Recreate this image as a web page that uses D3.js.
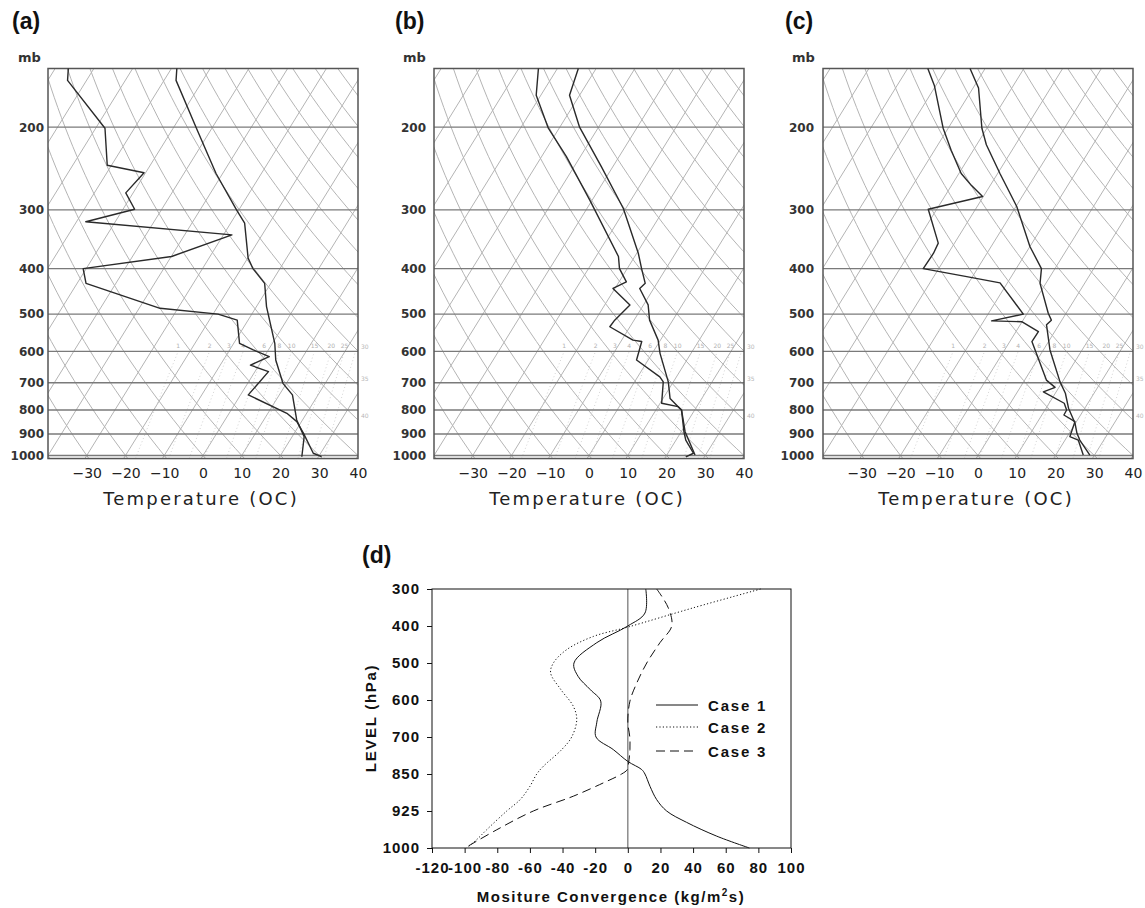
<!DOCTYPE html>
<html><head><meta charset="utf-8">
<script src="https://cdn.jsdelivr.net/npm/d3@7"></script>
<style>body{margin:0;background:#fff} svg{display:block}</style>
</head><body>
<svg id="c" width="1145" height="908"></svg>
<script>
// ---------------- DATA ----------------
// Skew-T axes
const pressureTicks = [200, 300, 400, 500, 600, 700, 800, 900, 1000];
const tempTicks = [-30, -20, -10, 0, 10, 20, 30, 40];
const mixRatios = [1, 2, 3, 4, 6, 8, 10, 15, 20, 25];
const sideLabels = [["30", 600], ["35", 700], ["40", 840]];

// soundings: [pressure (mb), temperature (°C)]
const aTemp = [[150,-68.6],[159,-66.9],[201,-54.0],[251,-41.7],[300,-30.6],[320,-26.4],[380,-19.9],[400,-17.0],[430,-11.6],[482,-7.4],[577,0.6],[626,3.5],[702,9.1],[743,13.4],[840,18.5],[912,23.1],[1006,25.7]];
const aDew  = [[150,-96.6],[159,-94.9],[201,-77.6],[241,-71.1],[250,-60.4],[276,-61.9],[299,-57.0],[318,-67.6],[339,-27.8],[377,-39.9],[400,-60.8],[430,-57.7],[486,-34.6],[500,-18.7],[515,-12.8],[577,-8.5],[596,-3.9],[616,1.3],[642,-2.2],[663,3.5],[743,2.0],[813,14.9],[847,18.8],[897,22.4],[989,28.1],[1006,30.8]];
const bTemp = [[150,-64.6],[171,-62.6],[200,-54.9],[243,-42.9],[298,-30.6],[371,-19.6],[400,-16.3],[430,-13.0],[441,-13.6],[478,-8.8],[515,-6.0],[568,-0.6],[606,2.0],[697,8.7],[756,11.8],[787,15.2],[800,16.6],[890,21.0],[998,27.3]];
const bDew  = [[150,-74.9],[171,-71.2],[201,-62.8],[231,-53.6],[286,-40.6],[377,-24.2],[400,-22.0],[427,-18.1],[441,-20.5],[478,-13.5],[515,-15.0],[532,-15.2],[568,-7.1],[572,-4.6],[626,-3.0],[680,5.7],[697,7.4],[774,10.4],[787,15.2],[800,16.6],[890,20.7],[927,22.5],[989,26.6],[1007,25.2]];
const cTemp = [[150,-63.9],[165,-58.6],[201,-51.3],[218,-47.5],[251,-39.4],[295,-29.8],[359,-20.0],[400,-13.5],[430,-11.5],[498,-4.6],[515,-2.7],[527,-3.2],[596,1.7],[697,9.4],[737,12.6],[793,15.8],[854,19.9],[897,22.0],[927,23.8],[998,28.8]];
const cDew  = [[150,-74.8],[163,-70.4],[201,-61.3],[224,-55.7],[251,-49.4],[266,-44.9],[281,-40.2],[299,-52.2],[353,-44.2],[371,-43.8],[400,-44.0],[416,-31.5],[429,-21.9],[500,-10.9],[517,-18.0],[519,-10.1],[545,-4.2],[572,-4.3],[691,5.6],[716,9.0],[732,6.7],[774,13.9],[800,15.6],[820,15.7],[847,19.6],[912,20.7],[927,23.4],[998,27.1]];

// Panel (d): moisture convergence profiles [pressure (hPa), value]
const levels = [300, 400, 500, 600, 700, 850, 925, 1000];
const convTicks = [-120, -100, -80, -60, -40, -20, 0, 20, 40, 60, 80, 100];
const case1 = [[300,11],[365,10.5],[400,0],[445,-19],[500,-33],[536,-30.5],[572,-23],[603,-16.6],[660,-19],[700,-19.5],[751,-8.9],[799,0],[832,8.5],[850,10.5],[875,13.6],[902,17.7],[925,23.8],[948,36],[976,54.5],[1000,74.5]];
const case2 = [[300,81.4],[351,40],[403,0],[428,-21],[464,-37.5],[500,-45.6],[527,-47.3],[572,-41],[617,-33.4],[653,-31.3],[700,-34.4],[751,-40.5],[819,-51.8],[850,-55.8],[875,-60],[902,-66],[925,-74.2],[963,-86.5],[983,-92.6],[1000,-98.7]];
const case3 = [[300,17.7],[351,24.8],[400,26.9],[445,19.7],[500,11.6],[554,5.5],[603,1.3],[660,0],[700,1.2],[751,1.3],[805,0.5],[832,-0.3],[850,-3.8],[868,-15],[895,-33.4],[925,-57.9],[963,-80.3],[1000,-99.8]];
const caseNames = ["Case 1", "Case 2", "Case 3"];

// ---------------- DRAW ----------------
const svg = d3.select("#c");
const W = 310, BOT_P = 1015, TOP_P = 150;
const K = 32.6; // skew: °C per ln(1000/p)
const yS = d3.scaleLog().domain([1000, TOP_P]).range([455.5, 68.5]);
const SANS = "'DejaVu Sans', sans-serif";
const ARIAL = "'Liberation Sans', Arial, sans-serif";

function dewFromMix(w, p) {
  const e = w * p / (622 + w);
  const l = Math.log(e / 6.112);
  return 243.5 * l / (17.67 - l);
}

const panels = [
  {id: "a", x0: 48,  temp: aTemp, dew: aDew, lab: "(a)", labX: 12,  mbX: 18,  pad: 4},
  {id: "b", x0: 434, temp: bTemp, dew: bDew, lab: "(b)", labX: 395, mbX: 403, pad: 8},
  {id: "c", x0: 823, temp: cTemp, dew: cDew, lab: "(c)", labX: 785, mbX: 792, pad: 9}
];

panels.forEach(P => {
  const g = svg.append("g");
  const xS = d3.scaleLinear().domain([-40, 40]).range([P.x0, P.x0 + W]);
  const X = (T, p) => xS(T + K * Math.log(1000 / p));
  const line = d3.line().x(d => X(d[1], d[0])).y(d => yS(d[0]));
  const clipId = "clip" + P.id;
  svg.append("clipPath").attr("id", clipId).append("rect")
    .attr("x", P.x0).attr("y", yS(TOP_P)).attr("width", W).attr("height", yS(BOT_P) - yS(TOP_P));
  const grid = g.append("g").attr("clip-path", `url(#${clipId})`);
  const pS = d3.range(0, 41).map(i => BOT_P * Math.pow(TOP_P / BOT_P, i / 40));

  // isotherms
  d3.range(-110, 41, 10).forEach(T => {
    grid.append("path").attr("d", line([[BOT_P, T], [TOP_P, T]]))
      .attr("fill", "none").attr("stroke", "#b4b4b4").attr("stroke-width", 1);
  });
  // dry adiabats
  d3.range(-40, 181, 10).forEach(th => {
    grid.append("path")
      .attr("d", line(pS.map(p => [p, (th + 273.15) * Math.pow(p / 1000, 0.2857) - 273.15])))
      .attr("fill", "none").attr("stroke", "#b4b4b4").attr("stroke-width", 1);
  });
  // mixing ratio lines
  mixRatios.concat([30]).forEach(w => {
    const pts = d3.range(1015, 599, -15).concat([600]).map(p => [p, dewFromMix(w, p)]);
    grid.append("path").attr("d", line(pts)).attr("fill", "none")
      .attr("stroke", "#c8c8c8").attr("stroke-width", 0.8).attr("stroke-dasharray", "1,2.5");
  });
  mixRatios.forEach(w => {
    g.append("text").attr("x", X(dewFromMix(w, 600), 600)).attr("y", yS(600) - 3)
      .attr("text-anchor", "middle").attr("font-family", SANS).attr("font-size", 6)
      .attr("fill", "#b0b0b0").text(w);
  });
  sideLabels.forEach(([t, p]) => {
    g.append("text").attr("x", P.x0 + W + 3).attr("y", yS(p) - 2)
      .attr("font-family", SANS).attr("font-size", 6).attr("fill", "#b8b8b8").text(t);
  });

  // pressure lines
  pressureTicks.forEach(p => {
    g.append("line").attr("x1", P.x0).attr("x2", P.x0 + W).attr("y1", yS(p)).attr("y2", yS(p))
      .attr("stroke", "#7a7a7a").attr("stroke-width", 1.3);
  });
  // box
  g.append("rect").attr("x", P.x0).attr("y", yS(TOP_P)).attr("width", W)
    .attr("height", yS(BOT_P) - yS(TOP_P)).attr("fill", "none")
    .attr("stroke", "#555").attr("stroke-width", 1.5);

  // soundings
  [P.dew, P.temp].forEach(s => {
    g.append("path").attr("d", line(s)).attr("fill", "none")
      .attr("stroke", "#2a2a2a").attr("stroke-width", 1.4).attr("stroke-linejoin", "round");
  });

  // axes
  const ay = g.append("g").attr("transform", `translate(${P.x0},0)`)
    .call(d3.axisLeft(yS).tickValues(pressureTicks).tickSize(0).tickPadding(P.pad).tickFormat(d3.format("d")));
  ay.select(".domain").remove();
  ay.selectAll("text").attr("font-family", SANS).attr("font-weight", "bold")
    .attr("font-size", 12).attr("fill", "#333");

  const ax = g.append("g").attr("transform", `translate(0,${yS(BOT_P)})`)
    .call(d3.axisBottom(xS).tickValues(tempTicks).tickSize(0).tickPadding(9.5)
      .tickFormat(d => d < 0 ? "\u2212" + Math.abs(d) : String(d)));
  ax.select(".domain").remove();
  ax.selectAll("text").attr("font-family", SANS).attr("font-size", 14).attr("fill", "#222");

  g.append("text").attr("x", P.x0 + 153).attr("y", 505).attr("text-anchor", "middle")
    .attr("font-family", SANS).attr("font-size", 18).attr("letter-spacing", 2.2)
    .attr("fill", "#222").text("Temperature (OC)");
  g.append("text").attr("x", P.mbX).attr("y", 61.5).attr("font-family", SANS)
    .attr("font-weight", "bold").attr("font-size", 13).attr("fill", "#333").text("mb");
  g.append("text").attr("x", P.labX).attr("y", 28.5).attr("font-family", ARIAL)
    .attr("font-weight", "bold").attr("font-size", 23).attr("fill", "#111").text(P.lab);
});

// ---------------- Panel (d) ----------------
const gd = svg.append("g");
const xD = d3.scaleLinear().domain([-120, 100]).range([432, 791]);
const yD = d3.scaleLinear().domain(levels).range(levels.map((d, i) => 589 + i * 37));

gd.append("line").attr("x1", xD(0)).attr("x2", xD(0)).attr("y1", yD(300)).attr("y2", yD(1000))
  .attr("stroke", "#7a7a7a").attr("stroke-width", 1.3);

const dLine = d3.line().x(d => xD(d[1])).y(d => yD(d[0])).curve(d3.curveCatmullRom.alpha(0.5));
const styles = [
  {data: case1, dash: null},
  {data: case2, dash: "1.2,2.2"},
  {data: case3, dash: "9,5"}
];
styles.forEach(s => {
  gd.append("path").attr("d", dLine(s.data)).attr("fill", "none").attr("stroke", "#111")
    .attr("stroke-width", 1).attr("stroke-dasharray", s.dash);
});

gd.append("rect").attr("x", 432).attr("y", 589).attr("width", 791 - 432).attr("height", 848 - 589)
  .attr("fill", "none").attr("stroke", "#111").attr("stroke-width", 1);

const axD = gd.append("g").attr("transform", "translate(0,848)")
  .call(d3.axisBottom(xD).tickValues(convTicks).tickSize(5).tickSizeOuter(0).tickPadding(9)
    .tickFormat(d => String(d)));
axD.select(".domain").remove();
axD.selectAll("line").attr("stroke", "#111");
axD.selectAll("text").attr("font-family", ARIAL).attr("font-weight", "bold").attr("font-size", 15)
  .attr("letter-spacing", 1).attr("fill", "#111");

const ayD = gd.append("g").attr("transform", "translate(432,0)")
  .call(d3.axisLeft(yD).tickValues(levels).tickSize(5).tickSizeOuter(0).tickPadding(7)
    .tickFormat(d => String(d)));
ayD.select(".domain").remove();
ayD.selectAll("line").attr("stroke", "#111");
ayD.selectAll("text").attr("font-family", ARIAL).attr("font-weight", "bold").attr("font-size", 15)
  .attr("letter-spacing", 1).attr("fill", "#111");

gd.append("text").attr("transform", "translate(376,718) rotate(-90)").attr("text-anchor", "middle")
  .attr("font-family", ARIAL).attr("font-weight", "bold").attr("font-size", 15)
  .attr("letter-spacing", 1.7).attr("fill", "#111").text("LEVEL (hPa)");

const xt = gd.append("text").attr("x", 611).attr("y", 902).attr("text-anchor", "middle")
  .attr("font-family", ARIAL).attr("font-weight", "bold").attr("font-size", 15)
  .attr("letter-spacing", 1.5).attr("fill", "#111");
xt.append("tspan").text("Mositure Convergence (kg/m");
xt.append("tspan").attr("dy", -6).attr("font-size", 10).text("2");
xt.append("tspan").attr("dy", 6).text("s)");

gd.append("text").attr("x", 362).attr("y", 563).attr("font-family", ARIAL)
  .attr("font-weight", "bold").attr("font-size", 23).attr("fill", "#111").text("(d)");

// legend
const legY = [705, 727, 751];
styles.forEach((s, i) => {
  gd.append("line").attr("x1", 656).attr("x2", 698).attr("y1", legY[i]).attr("y2", legY[i])
    .attr("stroke", "#111").attr("stroke-width", 1).attr("stroke-dasharray", s.dash);
  gd.append("text").attr("x", 708).attr("y", legY[i] + 5.5).attr("font-family", ARIAL)
    .attr("font-weight", "bold").attr("font-size", 15).attr("letter-spacing", 1.8)
    .attr("fill", "#111").text(caseNames[i]);
});
</script>
</body></html>
